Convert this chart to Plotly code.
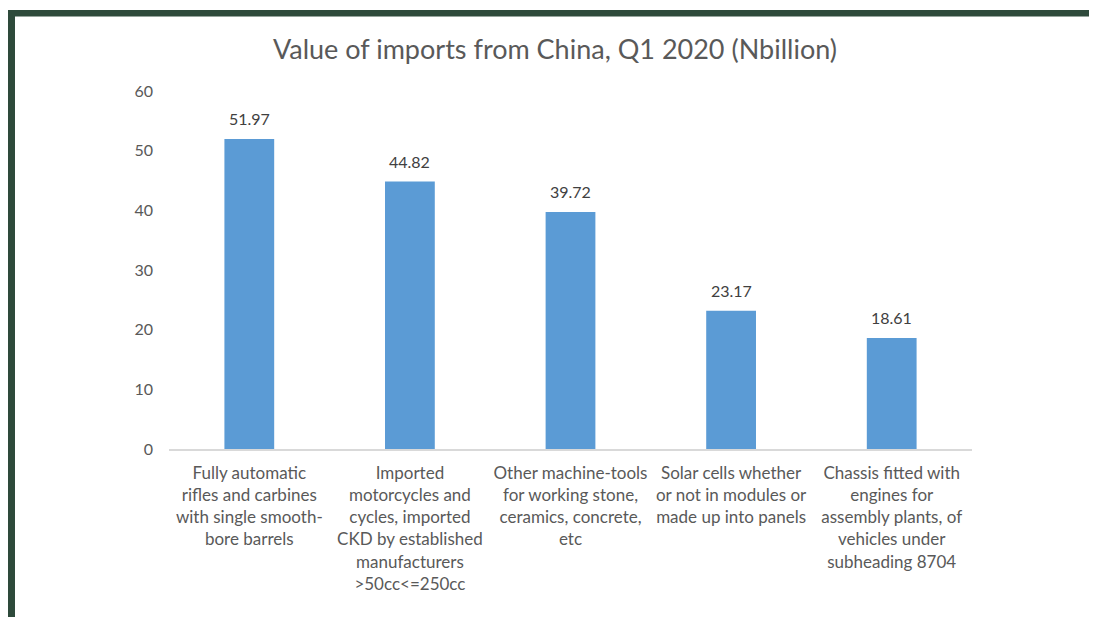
import plotly.graph_objects as go

# data
categories = [
    "Fully automatic<br>rifles and carbines<br>with single smooth-<br>bore barrels",
    "Imported<br>motorcycles and<br>cycles, imported<br>CKD by established<br>manufacturers<br>>50cc<=250cc",
    "Other machine-tools<br>for working stone,<br>ceramics, concrete,<br>etc",
    "Solar cells whether<br>or not in modules or<br>made up into panels",
    "Chassis fitted with<br>engines for<br>assembly plants, of<br>vehicles under<br>subheading 8704",
]
values = [51.97, 44.82, 39.72, 23.17, 18.61]
y_ticks = [0, 10, 20, 30, 40, 50, 60]

W, H = 1097, 617
OFF = 8  # the page body adds an 8px margin
L, R, T, B = 169 - OFF, 125 + OFF, 91 - OFF, 168 + OFF
PW, PH = W - L - R, H - T - B


def px(x):
    return (x - OFF - L) / PW


def py(y):
    return (H - B - (y - OFF)) / PH


grey = "#595959"
font = "Lato"

fig = go.Figure()
fig.add_trace(go.Bar(
    x=list(range(len(values))),
    y=values,
    marker=dict(color="#5B9BD5", line=dict(width=0)),
    hoverinfo="x+y",
))

for i, v in enumerate(values):
    fig.add_annotation(
        x=i, y=v, text=f"{v:.2f}", showarrow=False,
        yanchor="bottom", yshift=9,
        font=dict(size=16, color="#404040", family=font),
    )

# dark green frame on top and left
frame = "#2E4A3B"
fig.add_shape(type="rect", xref="paper", yref="paper",
              x0=px(0), x1=px(W + 20), y0=py(16.5), y1=py(0),
              fillcolor=frame, line_width=0, layer="above")
fig.add_shape(type="rect", xref="paper", yref="paper",
              x0=px(0), x1=px(15), y0=py(H + 20), y1=py(10),
              fillcolor=frame, line_width=0, layer="above")
# white strip above the top bar
fig.add_shape(type="rect", xref="paper", yref="paper",
              x0=px(0), x1=px(W + 20), y0=py(10), y1=py(0),
              fillcolor="white", line_width=0, layer="above")
fig.add_shape(type="rect", xref="paper", yref="paper",
              x0=px(0), x1=px(7), y0=py(H + 20), y1=py(0),
              fillcolor="white", line_width=0, layer="above")

fig.update_layout(
    width=W, height=H,
    margin=dict(l=L, r=R, t=T, b=B, autoexpand=False),
    paper_bgcolor="white", plot_bgcolor="white",
    bargap=0.69,
    showlegend=False,
    font=dict(family=font, color=grey),
    title=dict(
        text="Value of imports from China, Q1 2020 (Nbillion)",
        x=(555 - OFF) / W, xref="container", xanchor="center",
        y=1 - (50 - OFF) / H, yref="container", yanchor="middle",
        font=dict(size=27, color=grey, family=font),
    ),
)
fig.update_xaxes(
    tickmode="array",
    tickvals=list(range(len(values))),
    ticktext=categories,
    tickfont=dict(size=17, color=grey, family=font),
    showline=True, linecolor="#D9D9D9", linewidth=1.5,
    showgrid=False, ticks="",
    ticklabelstandoff=8,
    range=[-0.5, len(values) - 0.5],
)
fig.update_yaxes(
    range=[0, 60],
    tickvals=y_ticks,
    tickfont=dict(size=16, color=grey, family=font),
    showgrid=False, zeroline=False, showline=False,
    ticklabelstandoff=15,
)

fig.write_html("out.html")
